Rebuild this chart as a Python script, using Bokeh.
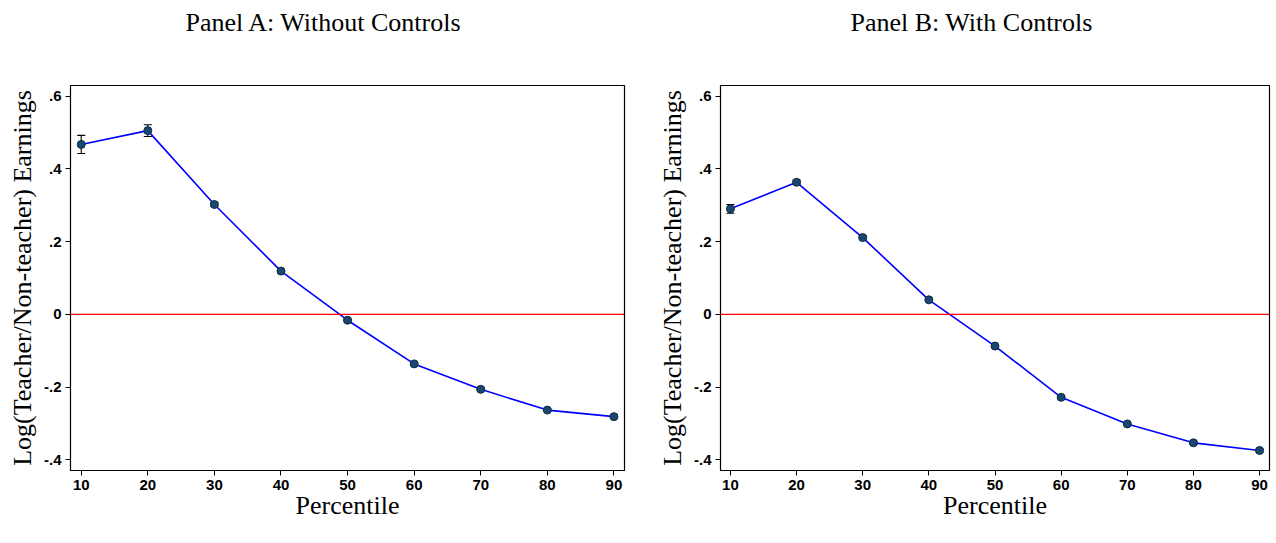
from bokeh.plotting import figure
from bokeh.layouts import row
from bokeh.models import ColumnDataSource, Whisker, TeeHead, FixedTicker, Span, Range1d, Title
from bokeh.embed import file_html
from bokeh.resources import INLINE

# ---- data ----
percentile = [10, 20, 30, 40, 50, 60, 70, 80, 90]
panel_a = [0.467, 0.505, 0.302, 0.119, -0.016, -0.136, -0.206, -0.263, -0.281]
panel_a_err = [0.025, 0.016, 0.005, 0.004, 0.004, 0.004, 0.004, 0.004, 0.005]
panel_b = [0.290, 0.363, 0.211, 0.040, -0.087, -0.228, -0.301, -0.353, -0.374]
panel_b_err = [0.012, 0.006, 0.004, 0.004, 0.003, 0.003, 0.003, 0.004, 0.004]
y_ticks = [-0.4, -0.2, 0, 0.2, 0.4, 0.6]
y_tick_labels = ["-.4", "-.2", "0", ".2", ".4", ".6"]
titles = ["Panel  A:  Without Controls", "Panel B: With Controls"]
x_label = "Percentile"
y_label = "Log(Teacher/Non-teacher) Earnings"

SERIF = "Liberation Serif"
SANS = "Liberation Sans"


def make_panel(vals, errs, title, width, border_left, border_right, xr, title_offset):
    p = figure(width=width, height=540, output_backend="svg", toolbar_location=None,
               x_range=Range1d(*xr), y_range=Range1d(-0.429, 0.629),
               min_border_left=border_left, min_border_right=border_right,
               min_border_top=85, min_border_bottom=70, title_location=None)
    spacer = Title(text=" ", text_font_size="4px", standoff=37)
    main = Title(text=title, align="left", offset=title_offset, standoff=10,
                 text_font=SERIF, text_font_style="normal", text_font_size="26px",
                 text_color="black")
    p.add_layout(spacer, "above")
    p.add_layout(main, "above")
    p.xgrid.visible = False
    p.ygrid.visible = False
    p.background_fill_color = "white"
    p.border_fill_color = "white"
    p.outline_line_color = "black"
    p.outline_line_width = 1.2

    src = ColumnDataSource(dict(x=percentile, y=vals,
                                lo=[v - e for v, e in zip(vals, errs)],
                                hi=[v + e for v, e in zip(vals, errs)]))

    p.add_layout(Span(location=0, dimension="width", line_color="#ff0000", line_width=1.2))
    p.line("x", "y", source=src, line_color="#0000ff", line_width=1.6)
    w = Whisker(base="x", lower="lo", upper="hi", source=src,
                line_color="black", line_width=1.1,
                upper_head=TeeHead(size=8, line_color="black", line_width=1.1),
                lower_head=TeeHead(size=8, line_color="black", line_width=1.1))
    p.add_layout(w)
    p.scatter("x", "y", source=src, size=8, marker="circle",
              fill_color="#1a476f", line_color="#0f2a44", line_width=1)

    # axes
    p.xaxis.ticker = FixedTicker(ticks=percentile)
    p.yaxis.ticker = FixedTicker(ticks=y_ticks)
    p.yaxis.major_label_overrides = {t: l for t, l in zip(y_ticks, y_tick_labels)}
    for ax in (p.xaxis[0], p.yaxis[0]):
        ax.major_tick_out = 5
        ax.major_tick_in = 0
        ax.minor_tick_out = 0
        ax.minor_tick_in = 0
        ax.axis_line_color = "black"
        ax.major_tick_line_color = "black"
        ax.major_label_text_font = SANS
        ax.major_label_text_font_style = "bold"
        ax.major_label_text_color = "black"
        ax.major_label_text_font_size = "15px"
        ax.axis_label_text_font = SERIF
        ax.axis_label_text_font_style = "normal"
        ax.axis_label_text_font_size = "26px"
        ax.axis_label_text_color = "black"
    p.xaxis.major_label_standoff = 4
    p.yaxis.major_label_standoff = 4
    p.xaxis.axis_label = x_label
    p.yaxis.axis_label = y_label
    p.xaxis.axis_label_standoff = -2
    p.yaxis.axis_label_standoff = 4
    return p


pa = make_panel(panel_a, panel_a_err, titles[0], 654, 70, 30, (8.39, 91.59), 115)
pb = make_panel(panel_b, panel_b_err, titles[1], 620, 62, 5, (8.5, 91.5), 130)

layout = row(pa, pb)
open("out.html", "w").write(file_html(layout, INLINE))
